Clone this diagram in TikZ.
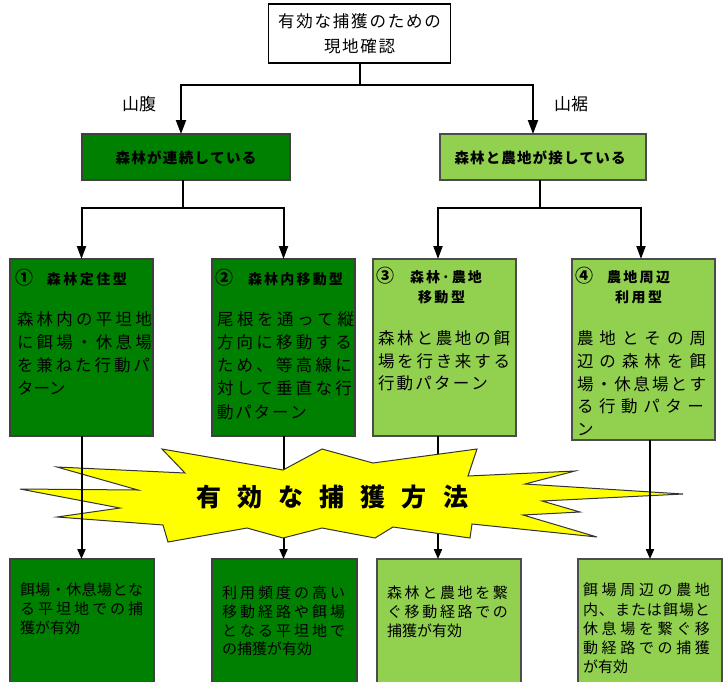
\documentclass[tikz,border=0pt]{standalone}
\usepackage{fontspec}
\setmainfont{Noto Sans CJK JP}
\usetikzlibrary{arrows.meta}
\definecolor{dg}{RGB}{0,128,0}
\definecolor{lg}{RGB}{146,208,80}
\definecolor{yel}{RGB}{255,255,0}
\def\spr#1{\sprA#1\relax}
\def\sprA#1{#1\sprB}
\def\sprB#1{\ifx#1\relax\else\hfil#1\expandafter\sprB\fi}
\newcommand\jl[2]{\hbox to #1pt{\vphantom{森}\spr{#2}}}
\newcommand\jn[1]{\hbox{\vphantom{森}#1}}
\newcommand\cnum[1]{\hbox to 16pt{\fontsize{18}{18}\selectfont\hss#1\hss}}
\begin{document}
\begin{tikzpicture}[x=1pt,y=-1pt,
  every node/.style={inner sep=0pt,outer sep=0pt},
  hdr/.style={draw=black,line width=1.8pt,fill=white},
  dbox/.style={draw=black!75,line width=1.2pt,fill=dg},
  lbox/.style={draw=black!70,line width=1.2pt,fill=lg},
  txt/.style={anchor=west,font=\fontsize{16.5}{16.5}\selectfont},
  sml/.style={anchor=west,font=\fontsize{15}{15}\selectfont},
  lbl/.style={font=\fontsize{17}{17}\selectfont},
  ttl/.style={anchor=west,font=\fontsize{14}{14}\selectfont\bfseries},
  ttlA/.style={font=\fontsize{14.5}{14.5}\selectfont\bfseries},
  bursttxt/.style={anchor=west,font=\fontsize{25}{25}\selectfont\bfseries},
  ln/.style={line width=2pt},
  arrT/.style={line width=2pt,-{Triangle[length=14pt,width=10pt]}},
  arrM/.style={line width=2pt,-{Triangle[length=13pt,width=9pt]}},
  arrS/.style={line width=2pt,-{Triangle[length=10pt,width=8pt]}}]
\useasboundingbox (0,0) rectangle (725,681);
\fill[white] (0,0) rectangle (725,681);

% top box
\node[hdr,minimum width=182pt,minimum height=59pt] (top) at (359.5,33.5) {};
\node[txt,anchor=center] (top1) at (359.5,21) {\jl{163}{有効な捕獲のための}};
\node[txt,anchor=center] (top2) at (359.5,46) {\jl{71}{現地確認}};

% labels
\node[lbl] (yf) at (139,104) {山腹};
\node[lbl] (ys) at (571,104) {山裾};

% level 1 boxes
\node[dbox,minimum width=208pt,minimum height=46pt] (A) at (186,157) {};
\node[ttlA] (At) at (186,158) {\jl{141}{森林が連続している}};
\node[lbox,minimum width=206pt,minimum height=46pt] (B) at (543,157) {};
\node[ttlA] (Bt) at (540,158) {\jl{171}{森林と農地が接している}};

% level 2 boxes
\node[dbox,minimum width=143pt,minimum height=177pt] (c1) at (81.5,347.5) {};
\node[dbox,minimum width=143pt,minimum height=177pt] (c2) at (283.5,347.5) {};
\node[lbox,minimum width=143pt,minimum height=177pt] (c3) at (444.5,347.5) {};
\node[lbox,minimum width=143pt,minimum height=181pt] (c4) at (643.5,349.5) {};

\node[ttl] (c1t) at (16,278) {\cnum{①}\kern15pt\jl{80}{森林定住型}};
\node[ttl] (c2t) at (216,278) {\cnum{②}\kern16pt\jl{95}{森林内移動型}};
\node[ttl] (c3t) at (377,276) {\cnum{③}\kern17pt\jl{72}{森林･農地}};
\node[ttl,anchor=center] (c3u) at (441.5,297) {\jl{47}{移動型}};
\node[ttl] (c4t) at (576,276) {\cnum{④}\kern15pt\jl{63}{農地周辺}};
\node[ttl,anchor=center] (c4u) at (638.5,297) {\jl{47}{利用型}};

\node[txt] (c1a) at (17,319) {\jl{135}{森林内の平坦地}};
\node[txt] (c1b) at (17,342) {\jl{135}{に餌場・休息場}};
\node[txt] (c1c) at (17,365) {\jl{133}{を兼ねた行動パ}};
\node[txt] (c1d) at (17,388) {\jn{ターン}};

\node[txt] (c2a) at (217,319) {\jl{137}{尾根を通って縦}};
\node[txt] (c2b) at (217,342) {\jl{135}{方向に移動する}};
\node[txt] (c2c) at (217,365) {\jl{135}{ため、等高線に}};
\node[txt] (c2d) at (217,388) {\jl{135}{対して垂直な行}};
\node[txt] (c2e) at (217,412) {\jl{90}{動パターン}};

\node[txt] (c3a) at (378,338) {\jl{132}{森林と農地の餌}};
\node[txt] (c3b) at (378,361) {\jl{132}{場を行き来する}};
\node[txt] (c3c) at (378,383) {\jl{110}{行動パターン}};

\node[txt] (c4a) at (577,338) {\jl{129}{農地とその周}};
\node[txt] (c4b) at (577,361) {\jl{129}{辺の森林を餌}};
\node[txt] (c4c) at (577,384) {\jl{129}{場・休息場とす}};
\node[txt] (c4d) at (577,406) {\jl{127}{る行動パター}};
\node[txt] (c4e) at (577,429) {\jn{ン}};

% connectors top
\coordinate (j0) at (359.5,85);
\draw[ln] (top.south) -- (j0);
\draw[arrT] (j0) -| ([xshift=-5pt]A.north);
\draw[arrT] (j0) -| ([xshift=-10pt]B.north);
\coordinate (j1) at (183,208);
\draw[ln] ([xshift=-3pt]A.south) -- (j1);
\draw[arrM] (j1) -| (c1.north);
\draw[arrM] (j1) -| (c2.north);
\coordinate (j2) at (539.5,208);
\draw[ln] ([xshift=-3.5pt]B.south) -- (j2);
\draw[arrM] (j2) -| ([xshift=-6.5pt]c3.north);
\draw[arrM] (j2) -| ([xshift=-2.5pt]c4.north);

% level 3 boxes
\node[dbox,minimum width=144pt,minimum height=131pt] (d1) at (82,624.5) {};
\node[dbox,minimum width=145pt,minimum height=131pt] (d2) at (284.5,624.5) {};
\node[lbox,minimum width=144pt,minimum height=131pt] (d3) at (449,624.5) {};
\node[lbox,minimum width=144pt,minimum height=131pt] (d4) at (650,624.5) {};

% lines hidden behind the burst
\draw[arrS] (c2.south) -- (c2.south |- d2.north);
\draw[arrS] ([xshift=-6.5pt]c3.south) -- ([xshift=-6.5pt]c3.south |- d3.north);

% burst
\draw[fill=yel,draw=black!80,line width=1pt,line join=miter]
  (20,489) -- (138,490) -- (57,467) -- (185,473) -- (162,449) -- (283,470)
  -- (322,449) -- (373,463) -- (477,449) -- (468,476) -- (575,471) -- (525,484)
  -- (683,494) -- (542,501) -- (580,512) -- (523,515) -- (597,537) -- (472,524)
  -- (470,538) -- (393,527) -- (375,538) -- (322,528) -- (283,538) -- (247,528)
  -- (168,542) -- (163,525) -- (57,517) -- (120,508) -- cycle;
\node[bursttxt] (bt) at (196,497) {\jl{272}{有効な捕獲方法}};

% lines drawn over the burst
\draw[arrS] (c1.south) -- (c1.south |- d1.north);
\draw[arrS] (c4.south -| d4.north) -- (d4.north);

% level 3 texts
\node[sml] (d1a) at (20,590) {\jl{123}{餌場・休息場とな}};
\node[sml] (d1b) at (20,609) {\jl{123}{る平坦地での捕}};
\node[sml] (d1c) at (20,628) {\jn{獲が有効}};

\node[sml] (d2a) at (222,593) {\jl{123}{利用頻度の高い}};
\node[sml] (d2b) at (222,612) {\jl{123}{移動経路や餌場}};
\node[sml] (d2c) at (222,631) {\jl{123}{となる平坦地で}};
\node[sml] (d2d) at (222,649) {\jn{の捕獲が有効}};

\node[sml] (d3a) at (387,593) {\jl{121}{森林と農地を繋}};
\node[sml] (d3b) at (387,612) {\jl{121}{ぐ移動経路での}};
\node[sml] (d3c) at (387,631) {\jn{捕獲が有効}};

\node[sml] (d4a) at (583,590) {\jl{127}{餌場周辺の農地}};
\node[sml] (d4b) at (583,610) {\jl{127}{内、または餌場と}};
\node[sml] (d4c) at (583,629) {\jl{127}{休息場を繋ぐ移}};
\node[sml] (d4d) at (583,648) {\jl{127}{動経路での捕獲}};
\node[sml] (d4e) at (583,667) {\jn{が有効}};
\end{tikzpicture}
\end{document}
